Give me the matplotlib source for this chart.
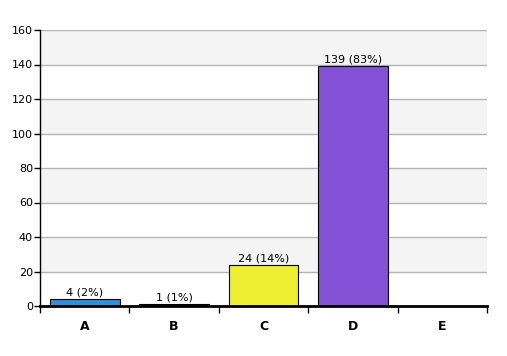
import numpy as np
import matplotlib
matplotlib.use('Agg')
from matplotlib import pyplot as plt

categories = ['A', 'B', 'C', 'D', 'E']
counts = [4, 1, 24, 139, 0]
percents = [2, 1, 14, 83, 0]
bar_colors = ['#2f8fd8', '#222222', '#eeee30', '#8450d6', '#888888']

fig = plt.figure(figsize=(5.07, 3.56), dpi=100)
ax = fig.add_axes([40/507, 1 - 306/356, 447/507, 276/356])

# alternating background bands
for lo in range(20, 160, 40):
    ax.axhspan(lo, lo + 20, color='#f4f4f4', zorder=0, lw=0)
for y in range(20, 161, 20):
    ax.axhline(y, color='#b4b4b4', lw=1, zorder=1)

x = np.arange(len(categories)) + 0.5
ax.bar(x, counts, width=0.78, color=bar_colors, edgecolor='black', lw=0.8, zorder=2)
for xi, c, p in zip(x, counts, percents):
    if c > 0:
        ax.text(xi, c + 0.8, f'{c} ({p}%)', ha='center', va='bottom', fontsize=8, zorder=3)

ax.set_xlim(0, 5)
ax.set_ylim(0, 160)
ax.set_yticks(range(0, 161, 20))
ax.tick_params(axis='y', labelsize=8, length=4, width=1, pad=1)
ax.set_xticks(range(0, 6))
ax.set_xticklabels([])
ax.tick_params(axis='x', which='major', direction='out', length=5, width=1)
ax.set_xticks(x, minor=True)
ax.set_xticklabels(categories, minor=True, fontweight='bold', fontsize=9)
ax.tick_params(axis='x', which='minor', length=0, pad=10)

for s in ['top', 'right']:
    ax.spines[s].set_visible(False)
ax.spines['left'].set_linewidth(1)
ax.spines['bottom'].set_linewidth(2)
ax.set_facecolor('white')

fig.savefig('out.png', dpi=100)
